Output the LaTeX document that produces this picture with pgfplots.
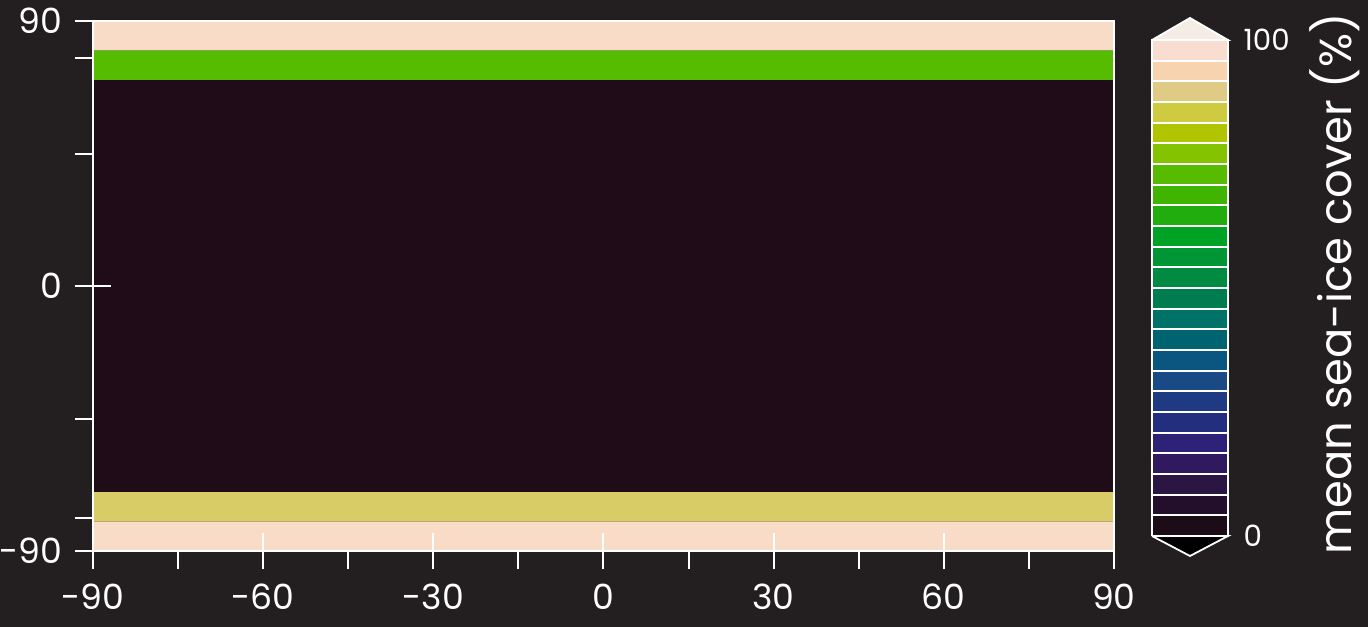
\documentclass[border=0pt]{standalone}
\usepackage{fontspec}
\setmainfont{Poppins}
\usepackage{pgfplots}
\pgfplotsset{compat=1.18}

\definecolor{bg}{HTML}{231F20}
% map bands
\definecolor{icefull}{HTML}{F8DCC8}
\definecolor{icegreen}{HTML}{55BC00}
\definecolor{iceyellow}{HTML}{D7CC66}
\definecolor{icenone}{HTML}{1F0C18}
% colour bar levels, 0 to 100 % in 24 steps
\definecolor{cb1}{HTML}{1C0C18}
\definecolor{cb2}{HTML}{230F2C}
\definecolor{cb3}{HTML}{2A1543}
\definecolor{cb4}{HTML}{30195E}
\definecolor{cb5}{HTML}{2D2278}
\definecolor{cb6}{HTML}{232E7E}
\definecolor{cb7}{HTML}{1E3A82}
\definecolor{cb8}{HTML}{1A4A86}
\definecolor{cb9}{HTML}{0A5680}
\definecolor{cb10}{HTML}{006470}
\definecolor{cb11}{HTML}{007268}
\definecolor{cb12}{HTML}{007D50}
\definecolor{cb13}{HTML}{008A42}
\definecolor{cb14}{HTML}{009535}
\definecolor{cb15}{HTML}{00A225}
\definecolor{cb16}{HTML}{20AD0D}
\definecolor{cb17}{HTML}{3FB500}
\definecolor{cb18}{HTML}{57BC00}
\definecolor{cb19}{HTML}{84C300}
\definecolor{cb20}{HTML}{B0C500}
\definecolor{cb21}{HTML}{CECB40}
\definecolor{cb22}{HTML}{E0CB86}
\definecolor{cb23}{HTML}{F7D3B0}
\definecolor{cb24}{HTML}{F8DDD0}
\definecolor{cbover}{HTML}{F5EDE5}
\definecolor{cbunder}{HTML}{000000}

\newcommand{\ticksize}{\fontsize{11.6}{11.6}\selectfont}
\newcommand{\cbsize}{\fontsize{9.8}{9.8}\selectfont}
\newcommand{\labsize}{\fontsize{15}{15}\selectfont}

\pgfplotsset{
  /pgf/number format/assume math mode=true,
  band/.style={fill=#1, draw=none, mark=none},
  cbseg/.style={fill=#1, draw=white, line width=0.6bp, mark=none},
}

\begin{document}
\begin{tikzpicture}
\fill[bg] (0bp,0bp) rectangle (456bp,209bp);

% ---- map ----
\begin{axis}[
  at={(31bp,25.33bp)}, anchor=south west,
  scale only axis, width=340.33bp, height=176.67bp,
  xmin=-90, xmax=90, ymin=-90, ymax=90,
  axis on top,
  axis line style={white, line width=0.67bp},
  tick style={white, line width=0.67bp},
  tick align=outside, major tick length=6bp, minor tick length=6bp,
  xtick pos=bottom, ytick pos=left,
  xtick={-90,-60,-30,0,30,60,90},
  xticklabels={-90,-60,-30,0,30,60,90},
  minor xtick={-75,-45,-15,15,45,75},
  ytick={-90,0,90},
  yticklabels={-90,0,90},
  minor ytick={-78.8,-45,45,77.4},
  tick label style={white, font=\ticksize, inner sep=0pt},
  xticklabel style={anchor=north, yshift=-4.9bp},
  yticklabel style={anchor=east, xshift=-4bp},
]
\addplot[band=icenone] coordinates {(-90,-70) (90,-70) (90,70) (-90,70) (-90,-70)};
\addplot[band=icegreen] coordinates {(-90,70) (90,70) (90,80) (-90,80) (-90,70)};
\addplot[band=icefull] coordinates {(-90,80) (90,80) (90,90) (-90,90) (-90,80)};
\addplot[band=iceyellow] coordinates {(-90,-80) (90,-80) (90,-70) (-90,-70) (-90,-80)};
\addplot[band=icefull] coordinates {(-90,-90) (90,-90) (90,-80) (-90,-80) (-90,-90)};
\end{axis}

% inward ticks at the inner major positions
\begin{axis}[
  at={(31bp,25.33bp)}, anchor=south west,
  scale only axis, width=340.33bp, height=176.67bp,
  xmin=-90, xmax=90, ymin=-90, ymax=90,
  axis line style={draw=none},
  tick style={white, line width=0.67bp},
  tick align=inside, major tick length=6bp,
  xtick pos=bottom, ytick pos=left,
  xtick={-60,-30,0,30,60}, ytick={0},
  xticklabels={}, yticklabels={},
]
\end{axis}

% ---- colour bar ----
\begin{axis}[
  at={(384bp,30.33bp)}, anchor=south west,
  scale only axis, width=25.33bp, height=165.33bp,
  xmin=0, xmax=1, ymin=0, ymax=100,
  clip=false,
  axis line style={draw=none},
  xtick=\empty,
  ytick={0,100}, yticklabels={0,100},
  yticklabel pos=right, major tick length=0pt,
  tick label style={white, font=\cbsize, inner sep=0pt},
  yticklabel style={anchor=west, xshift=5bp},
  ylabel={mean sea-ice cover (\%)},
  ylabel style={white, font=\labsize, at={(axis description cs:2.40,0.508)}, anchor=center},
]
\addplot[cbseg=cbunder] coordinates {(0,0) (0.5,-4.03) (1,0) (0,0)};
\addplot[cbseg=cbover] coordinates {(0,100) (0.5,104.44) (1,100) (0,100)};
\addplot[cbseg=cb1] coordinates {(0,0) (1,0) (1,4.1667) (0,4.1667) (0,0)};
\addplot[cbseg=cb2] coordinates {(0,4.1667) (1,4.1667) (1,8.3333) (0,8.3333) (0,4.1667)};
\addplot[cbseg=cb3] coordinates {(0,8.3333) (1,8.3333) (1,12.5) (0,12.5) (0,8.3333)};
\addplot[cbseg=cb4] coordinates {(0,12.5) (1,12.5) (1,16.6667) (0,16.6667) (0,12.5)};
\addplot[cbseg=cb5] coordinates {(0,16.6667) (1,16.6667) (1,20.8333) (0,20.8333) (0,16.6667)};
\addplot[cbseg=cb6] coordinates {(0,20.8333) (1,20.8333) (1,25) (0,25) (0,20.8333)};
\addplot[cbseg=cb7] coordinates {(0,25) (1,25) (1,29.1667) (0,29.1667) (0,25)};
\addplot[cbseg=cb8] coordinates {(0,29.1667) (1,29.1667) (1,33.3333) (0,33.3333) (0,29.1667)};
\addplot[cbseg=cb9] coordinates {(0,33.3333) (1,33.3333) (1,37.5) (0,37.5) (0,33.3333)};
\addplot[cbseg=cb10] coordinates {(0,37.5) (1,37.5) (1,41.6667) (0,41.6667) (0,37.5)};
\addplot[cbseg=cb11] coordinates {(0,41.6667) (1,41.6667) (1,45.8333) (0,45.8333) (0,41.6667)};
\addplot[cbseg=cb12] coordinates {(0,45.8333) (1,45.8333) (1,50) (0,50) (0,45.8333)};
\addplot[cbseg=cb13] coordinates {(0,50) (1,50) (1,54.1667) (0,54.1667) (0,50)};
\addplot[cbseg=cb14] coordinates {(0,54.1667) (1,54.1667) (1,58.3333) (0,58.3333) (0,54.1667)};
\addplot[cbseg=cb15] coordinates {(0,58.3333) (1,58.3333) (1,62.5) (0,62.5) (0,58.3333)};
\addplot[cbseg=cb16] coordinates {(0,62.5) (1,62.5) (1,66.6667) (0,66.6667) (0,62.5)};
\addplot[cbseg=cb17] coordinates {(0,66.6667) (1,66.6667) (1,70.8333) (0,70.8333) (0,66.6667)};
\addplot[cbseg=cb18] coordinates {(0,70.8333) (1,70.8333) (1,75) (0,75) (0,70.8333)};
\addplot[cbseg=cb19] coordinates {(0,75) (1,75) (1,79.1667) (0,79.1667) (0,75)};
\addplot[cbseg=cb20] coordinates {(0,79.1667) (1,79.1667) (1,83.3333) (0,83.3333) (0,79.1667)};
\addplot[cbseg=cb21] coordinates {(0,83.3333) (1,83.3333) (1,87.5) (0,87.5) (0,83.3333)};
\addplot[cbseg=cb22] coordinates {(0,87.5) (1,87.5) (1,91.6667) (0,91.6667) (0,87.5)};
\addplot[cbseg=cb23] coordinates {(0,91.6667) (1,91.6667) (1,95.8333) (0,95.8333) (0,91.6667)};
\addplot[cbseg=cb24] coordinates {(0,95.8333) (1,95.8333) (1,100) (0,100) (0,95.8333)};
\end{axis}

% the page is exactly the background rectangle
\pgfresetboundingbox
\useasboundingbox (0bp,0bp) rectangle (456bp,209bp);
\end{tikzpicture}
\end{document}
